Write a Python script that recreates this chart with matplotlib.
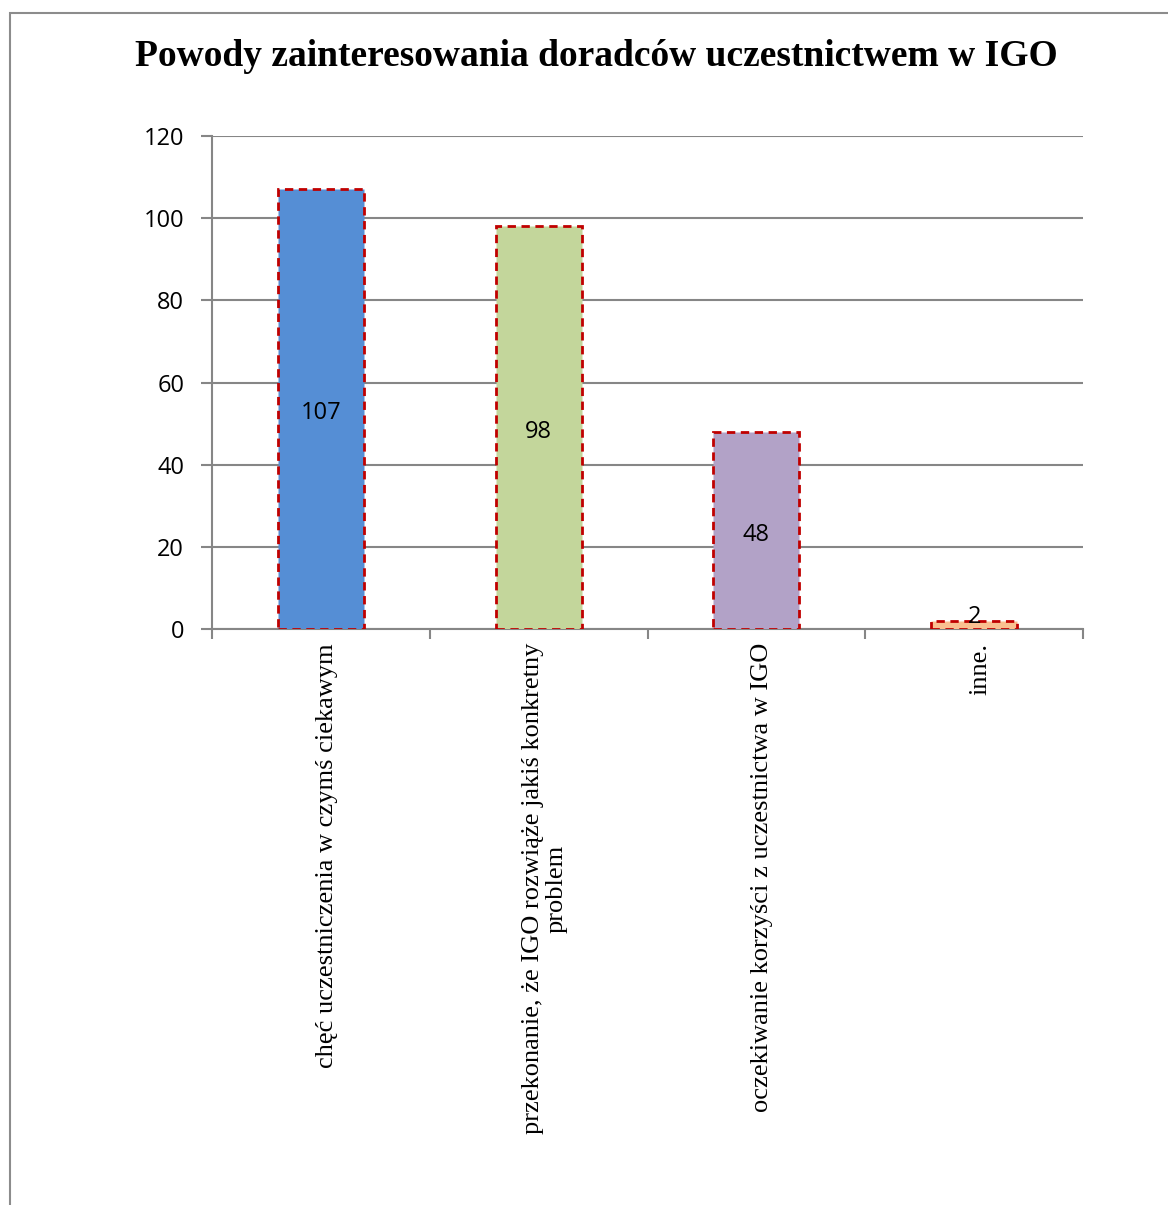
import matplotlib.pyplot as plt
import numpy as np
from matplotlib.patches import Rectangle

categories = [
    "chęć uczestniczenia w czymś ciekawym",
    "przekonanie, że IGO rozwiąże jakiś konkretny\nproblem",
    "oczekiwanie korzyści z uczestnictwa w IGO",
    "inne.",
]
values = [107, 98, 48, 2]
colors = ["#558ED5", "#C3D69B", "#B2A2C7", "#FAC090"]
title = "Powody zainteresowania doradców uczestnictwem w IGO"
y_ticks = [0, 20, 40, 60, 80, 100, 120]

grid_color = "#868686"

fig = plt.figure(figsize=(11.68, 12.05), dpi=100)
# outer chart frame (left and top edges visible, rest runs off the image)
fig.patches.append(
    Rectangle((10 / 1168, -0.1), 1.2, 1 - 13 / 1205 + 0.1,
              transform=fig.transFigure, fill=False,
              edgecolor="#8c8c8c", linewidth=1.5)
)

ax = fig.add_axes([212 / 1168, 1 - 629 / 1205, (1083 - 212) / 1168, (629 - 136) / 1205])

x = np.arange(len(categories))
bars = ax.bar(x, values, width=0.395, color=colors, edgecolor="#C00000",
              linewidth=2, linestyle=(0, (3, 2)), zorder=3)
for xi, v in zip(x, values):
    ax.text(xi, v / 2 - 1 if v > 5 else v / 2 + 2, str(v), ha="center", va="center",
            fontsize=17, family="Open Sans", zorder=4)

ax.set_xlim(-0.5, len(categories) - 0.5)
ax.set_ylim(0, 120)
ax.set_yticks(y_ticks)
ax.set_yticklabels([str(t) for t in y_ticks], family="Open Sans", fontsize=17)
ax.yaxis.grid(True, color=grid_color, linewidth=1.5, zorder=0)
ax.set_axisbelow(True)

# labels sit slightly right of bar centres in the original
ax.set_xticks(x + 0.028)
ax.set_xticklabels(categories, rotation=90, family="Liberation Serif",
                   fontsize=19, va="top", ha="center", multialignment="center",
                   linespacing=1.1)
ax.tick_params(axis="x", length=0, pad=10)
ax.set_xticks(np.arange(-0.5, len(categories)), minor=True)
ax.tick_params(axis="x", which="minor", length=7, width=1.5, color=grid_color)
ax.tick_params(axis="y", length=8, width=1.5, color=grid_color, pad=12)

for side in ["top", "right"]:
    ax.spines[side].set_visible(False)
for side in ["left", "bottom"]:
    ax.spines[side].set_color(grid_color)
    ax.spines[side].set_linewidth(1.5)

fig.text(596 / 1168, 1 - 56 / 1205, title, ha="center", va="center",
         family="Liberation Serif", fontweight="bold", fontsize=27)

fig.savefig("out.png", dpi=100)
plt.close(fig)
